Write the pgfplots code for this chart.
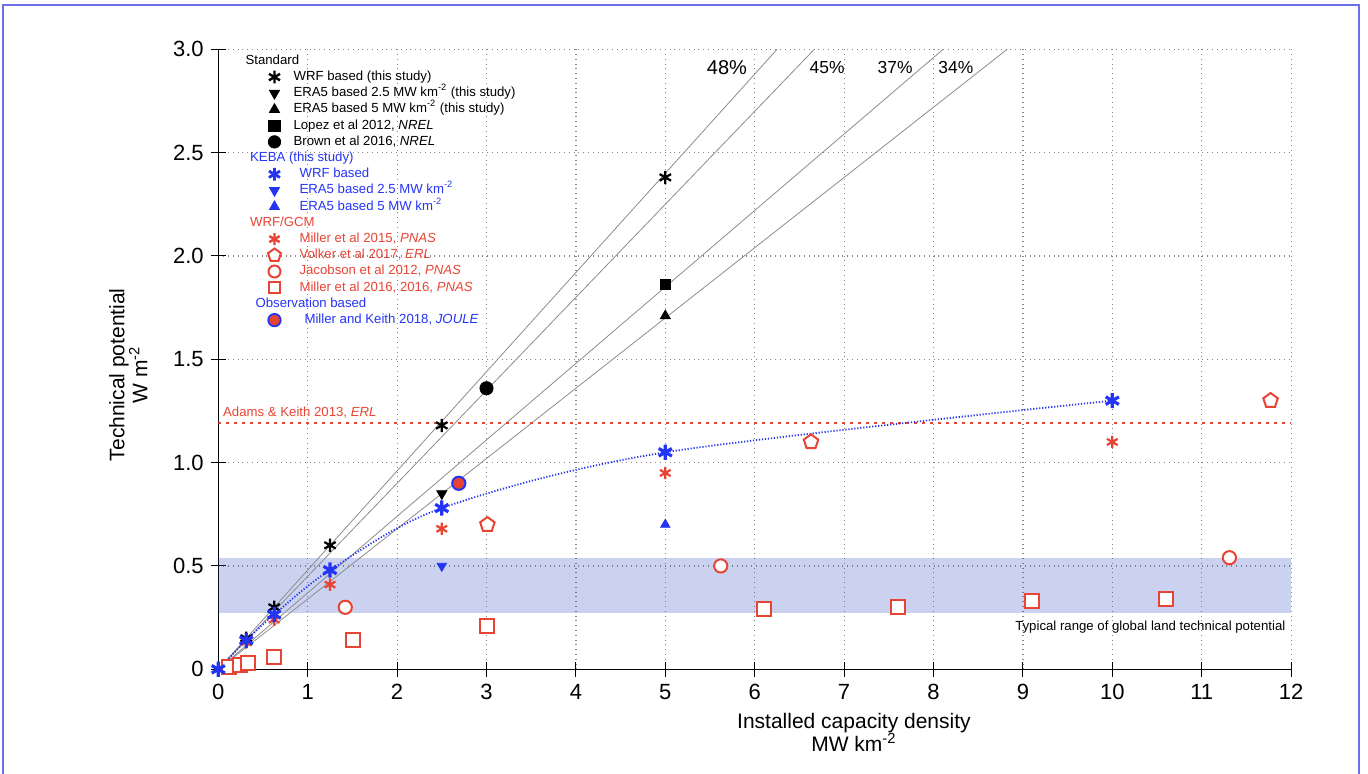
\documentclass[border=0pt]{standalone}
\usepackage{pgfplots}
\pgfplotsset{compat=1.18}
\usepackage{fontspec}
\setmainfont{Liberation Sans}
\definecolor{kred}{RGB}{232,68,52}
\definecolor{kblue}{RGB}{36,52,245}
\definecolor{band}{RGB}{60,90,200}
\definecolor{frm}{RGB}{110,110,235}
\definecolor{gline}{RGB}{140,140,140}
\definecolor{gridc}{RGB}{135,135,135}
\newcommand{\lf}{\fontsize{6.6}{7.6}\selectfont}
\newcommand{\sq}{\textsuperscript{-2}}
\begin{document}
\begin{tikzpicture}
\useasboundingbox (-109.15pt,-52.35pt) rectangle (574.85pt,334.65pt);
\draw[frm, line width=1pt] (-107.4pt,-60pt) -- (-107.4pt,332.2pt) -- (570.4pt,332.2pt) -- (570.4pt,-60pt);
\begin{axis}[
  at={(0,0)}, anchor=south west,
  scale only axis, width=536.4pt, height=310pt,
  xmin=0, xmax=12, ymin=0, ymax=3,
  axis x line*=bottom, axis y line*=left,
  axis line style={black, line width=0.7pt, -},
  xtick={0,1,...,12},
  ytick={0,0.5,1,1.5,2,2.5,3},
  yticklabels={0,0.5,1.0,1.5,2.0,2.5,3.0},
  grid=major,
  grid style={gridc, dotted, line width=0.6pt},
  tick style={black, line width=0.5pt},
  tick align=center, major tick length=7.5pt,
  /pgf/number format/assume math mode=true,
  ticklabel style={font=\fontsize{11}{13}\selectfont},
  label style={font=\fontsize{10.5}{11.5}\selectfont},
  xlabel={Installed capacity density\\MW km\sq},
  xlabel style={align=center, at={(ticklabel cs:0.5925)}, anchor=near ticklabel},
  ylabel={Technical potential\\W m\sq},
  ylabel style={align=center, at={(ticklabel cs:0.475)}, yshift=6pt},
  legend cell align=left,
  legend style={at={(axis cs:0.433,2.985)}, anchor=north west, draw=none, fill=none,
    inner sep=0pt, font=\lf, row sep=0pt,
    nodes={inner sep=0.8pt, text height=5.0pt, text depth=1.5pt}},
]
% band
\addplot[forget plot, draw=none, fill=band, fill opacity=0.27] coordinates {(0,0.27)(12,0.27)(12,0.54)(0,0.54)} -- cycle;
% capacity-factor lines
\addplot[forget plot, gline, line width=0.4pt] coordinates {(0,0)(6.25,3)};
\addplot[forget plot, gline, line width=0.4pt] coordinates {(0,0)(6.667,3)};
\addplot[forget plot, gline, line width=0.4pt] coordinates {(0,0)(8.108,3)};
\addplot[forget plot, gline, line width=0.4pt] coordinates {(0,0)(8.824,3)};
% Adams & Keith
\addplot[forget plot, kred, line width=1pt, dash pattern=on 1.1pt off 2.9pt] coordinates {(0,1.19)(12,1.19)};
% KEBA fit
\addplot[forget plot, kblue, smooth, line width=0.9pt, dash pattern=on 0.6pt off 0.9pt] coordinates {(0,0)(0.3125,0.14)(0.625,0.265)(1.25,0.48)(2.5,0.78)(5,1.05)(10,1.30)};
% red squares (Miller 2016)
\addplot[forget plot, only marks, mark=square*, mark size=3.5pt, mark options={draw=kred, fill=white, line width=1pt}] coordinates {(0.12,0.01)(0.24,0.02)(0.33,0.03)(0.62,0.06)(1.51,0.14)(3.0,0.21)(6.1,0.29)(7.6,0.30)(9.1,0.33)(10.6,0.34)};
% red circles (Jacobson)
\addplot[forget plot, only marks, mark=*, mark size=3.3pt, mark options={draw=kred, fill=white, line width=1pt}] coordinates {(1.42,0.30)(5.62,0.50)(11.31,0.54)};
% pentagons (Volker)
\addplot[forget plot, only marks, mark=pentagon*, mark size=3.8pt, mark options={draw=kred, fill=white, line width=1pt}] coordinates {(3.01,0.70)(6.63,1.10)(11.77,1.30)};
% red asterisks (Miller 2015)
\addplot[forget plot, only marks, mark=asterisk, mark size=3.1pt, mark options={draw=kred, line width=1.1pt}] coordinates {(0,0)(0.3125,0.13)(0.625,0.24)(1.25,0.41)(2.5,0.68)(5,0.95)(10,1.10)};
% black standard
\addplot[forget plot, only marks, mark=asterisk, mark size=3.3pt, mark options={draw=black, line width=1.1pt}] coordinates {(0,0)(0.3125,0.15)(0.625,0.30)(1.25,0.60)(2.5,1.18)(5,2.38)};
\addplot[forget plot, only marks, mark=triangle*, mark size=2.9pt, mark options={black, rotate=180}] coordinates {(2.5,0.85)};
\addplot[forget plot, only marks, mark=triangle*, mark size=2.9pt, mark options={black}] coordinates {(5,1.71)};
\addplot[forget plot, only marks, mark=square*, mark size=2.5pt, mark options={black}] coordinates {(5,1.86)};
\addplot[forget plot, only marks, mark=*, mark size=3.3pt, mark options={black}] coordinates {(3,1.36)};
% blue KEBA
\addplot[forget plot, only marks, mark=asterisk, mark size=3.8pt, mark options={draw=kblue, line width=1.6pt}] coordinates {(0,0)(0.3125,0.14)(0.625,0.265)(1.25,0.48)(2.5,0.78)(5,1.05)(10,1.30)};
\addplot[forget plot, only marks, mark=triangle*, mark size=2.7pt, mark options={kblue, rotate=180}] coordinates {(2.5,0.50)};
\addplot[forget plot, only marks, mark=triangle*, mark size=2.7pt, mark options={kblue}] coordinates {(5,0.70)};
% Miller and Keith 2018
\addplot[forget plot, only marks, mark=*, mark size=3.3pt, mark options={draw=kblue, fill=kred, line width=1pt}] coordinates {(2.69,0.90)};

% legend
\addlegendimage{empty legend}\addlegendentry{\hspace{-18.5pt}Standard}
\addlegendimage{only marks, mark=asterisk, mark size=3.2pt, mark options={black, line width=1.2pt}}\addlegendentry{\hspace{5.5pt}WRF based (this study)}
\addlegendimage{only marks, mark=triangle*, mark size=2.9pt, mark options={black, rotate=180}}\addlegendentry{\hspace{5.5pt}ERA5 based 2.5 MW km\sq{} (this study)}
\addlegendimage{only marks, mark=triangle*, mark size=2.9pt, mark options={black}}\addlegendentry{\hspace{5.5pt}ERA5 based 5 MW km\sq{} (this study)}
\addlegendimage{only marks, mark=square*, mark size=2.8pt, mark options={black}}\addlegendentry{\hspace{5.5pt}Lopez et al 2012, \textit{NREL}}
\addlegendimage{only marks, mark=*, mark size=3.1pt, mark options={black}}\addlegendentry{\hspace{5.5pt}Brown et al 2016, \textit{NREL}}
\addlegendimage{empty legend}\addlegendentry{\hspace{-16.2pt}\textcolor{kblue}{KEBA (this study)}}
\addlegendimage{only marks, mark=asterisk, mark size=3.2pt, mark options={kblue, line width=1.4pt}}\addlegendentry{\hspace{8.5pt}\textcolor{kblue}{WRF based}}
\addlegendimage{only marks, mark=triangle*, mark size=2.9pt, mark options={kblue, rotate=180}}\addlegendentry{\hspace{8.5pt}\textcolor{kblue}{ERA5 based 2.5 MW km\sq}}
\addlegendimage{only marks, mark=triangle*, mark size=2.9pt, mark options={kblue}}\addlegendentry{\hspace{8.5pt}\textcolor{kblue}{ERA5 based 5 MW km\sq}}
\addlegendimage{empty legend}\addlegendentry{\hspace{-16.2pt}\textcolor{kred}{WRF/GCM}}
\addlegendimage{only marks, mark=asterisk, mark size=3pt, mark options={kred, line width=1.2pt}}\addlegendentry{\hspace{8.5pt}\textcolor{kred}{Miller et al 2015, \textit{PNAS}}}
\addlegendimage{only marks, mark=pentagon*, mark size=3.4pt, mark options={draw=kred, fill=white, line width=1pt}}\addlegendentry{\hspace{8.5pt}\textcolor{kred}{Volker et al 2017, \textit{ERL}}}
\addlegendimage{only marks, mark=*, mark size=3pt, mark options={draw=kred, fill=white, line width=1pt}}\addlegendentry{\hspace{8.5pt}\textcolor{kred}{Jacobson et al 2012, \textit{PNAS}}}
\addlegendimage{only marks, mark=square*, mark size=2.9pt, mark options={draw=kred, fill=white, line width=1pt}}\addlegendentry{\hspace{8.5pt}\textcolor{kred}{Miller et al 2016, 2016, \textit{PNAS}}}
\addlegendimage{empty legend}\addlegendentry{\hspace{-13.5pt}\textcolor{kblue}{Observation based}}
\addlegendimage{only marks, mark=*, mark size=3.1pt, mark options={draw=kblue, fill=kred, line width=0.9pt}}\addlegendentry{\hspace{11pt}\textcolor{kblue}{Miller and Keith 2018, \textit{JOULE}}}

% annotations
\node[font=\fontsize{10}{12}\selectfont] at (axis cs:5.69,2.91) {48\%};
\node[font=\fontsize{8.7}{10}\selectfont] at (axis cs:6.81,2.91) {45\%};
\node[font=\fontsize{8.7}{10}\selectfont] at (axis cs:7.57,2.91) {37\%};
\node[font=\fontsize{8.7}{10}\selectfont] at (axis cs:8.25,2.91) {34\%};
\node[anchor=west, text=kred, font=\lf, inner sep=0pt] at (axis cs:0.05,1.241) {Adams \& Keith 2013, \textit{ERL}};
\node[anchor=east, font=\lf, inner sep=0pt] at (axis cs:11.94,0.205) {Typical range of global land technical potential};
\end{axis}
\end{tikzpicture}
\end{document}
